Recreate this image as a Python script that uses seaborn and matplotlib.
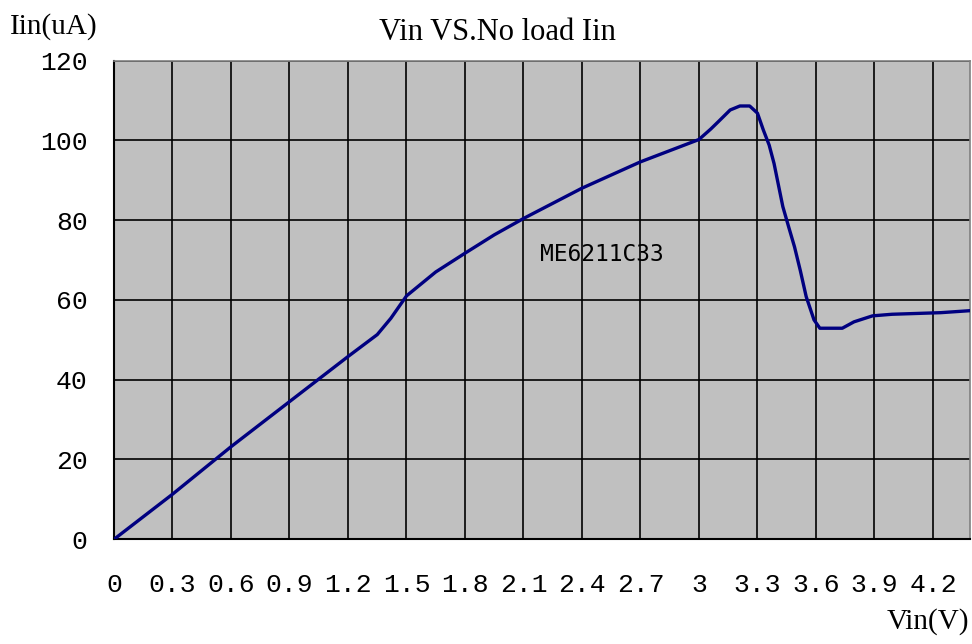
import numpy as np
import pandas as pd
import matplotlib
matplotlib.use('Agg')
import matplotlib.pyplot as plt
import seaborn as sns

# curve
vin = [0, 0.3, 0.6, 0.9, 1.2, 1.35, 1.42, 1.5, 1.65, 1.8, 1.95, 2.1, 2.25, 2.4, 2.7, 3.0,
       3.06, 3.1, 3.16, 3.21, 3.26, 3.30, 3.33, 3.36, 3.385, 3.43, 3.46, 3.49, 3.52, 3.55,
       3.59, 3.62, 3.735, 3.795, 3.89, 3.99, 4.24, 4.39]
iin = [0, 11.3, 23.2, 34.5, 45.8, 51.3, 55.4, 61.0, 67.0, 71.7, 76.3, 80.4, 84.2, 88.0, 94.6, 100.2,
       102.8, 104.7, 107.6, 108.6, 108.6, 106.8, 102.6, 98.8, 94.2, 83.4, 78.3, 73.3, 67.3, 60.8,
       55.0, 52.9, 52.9, 54.5, 56.0, 56.4, 56.8, 57.3]

x_ticks = [0, 0.3, 0.6, 0.9, 1.2, 1.5, 1.8, 2.1, 2.4, 2.7, 3.0, 3.3, 3.6, 3.9, 4.2]
x_labels = ['0', '0.3', '0.6', '0.9', '1.2', '1.5', '1.8', '2.1', '2.4', '2.7', '3', '3.3', '3.6', '3.9', '4.2']
y_ticks = [0, 20, 40, 60, 80, 100, 120]

df = pd.DataFrame({'vin': vin, 'iin': iin})

sns.set_style('white', {'text.color': 'black', 'xtick.color': 'black', 'ytick.color': 'black'})
plt.rcParams['font.family'] = ['Liberation Serif', 'DejaVu Serif']

fig = plt.figure(figsize=(9.72, 6.44), dpi=100)
ax = fig.add_axes([114 / 972, 1 - 539.3 / 644, (970 - 114) / 972, (539.3 - 60.5) / 644])
ax.set_facecolor('#c0c0c0')

sns.lineplot(data=df, x='vin', y='iin', ax=ax, color='#000080', lw=2.4,
             estimator=None, sort=False, zorder=3)

ax.set_xlim(0, 4.39)
ax.set_ylim(0, 120)
ax.set_xticks(x_ticks)
ax.set_xticklabels(x_labels)
ax.set_yticks(y_ticks)
ax.set_yticklabels([str(v) for v in y_ticks])
ax.grid(True, color='black', lw=1.2, zorder=1)
ax.set_axisbelow(True)
ax.tick_params(axis='both', length=0, labelsize=19, labelcolor='black')
ax.tick_params(axis='x', pad=24)
ax.tick_params(axis='y', pad=19)
for lab in ax.get_xticklabels() + ax.get_yticklabels():
    lab.set_family(['Liberation Mono', 'DejaVu Sans Mono'])
ax.set_xlabel('')
ax.set_ylabel('')

for side in ['left', 'bottom']:
    ax.spines[side].set_color('black')
    ax.spines[side].set_linewidth(1.5)
for side in ['top', 'right']:
    ax.spines[side].set_color('#808080')
    ax.spines[side].set_linewidth(1.2)

ax.text(2.187, 71.3, 'ME6211C33', fontsize=16.5, va='center', ha='left',
        family=['DejaVu Sans Mono'], color='black', zorder=4)

fig.text(497 / 972, 1 - 33 / 644, 'Vin VS.No load Iin', fontsize=22, ha='center', va='center', color='black')
fig.text(10 / 972, 1 - 27 / 644, 'Iin(uA)', fontsize=21, ha='left', va='center', color='black')
fig.text(969 / 972, 1 - 622 / 644, 'Vin(V)', fontsize=21, ha='right', va='center', color='black')

fig.savefig('out.png', dpi=100)
